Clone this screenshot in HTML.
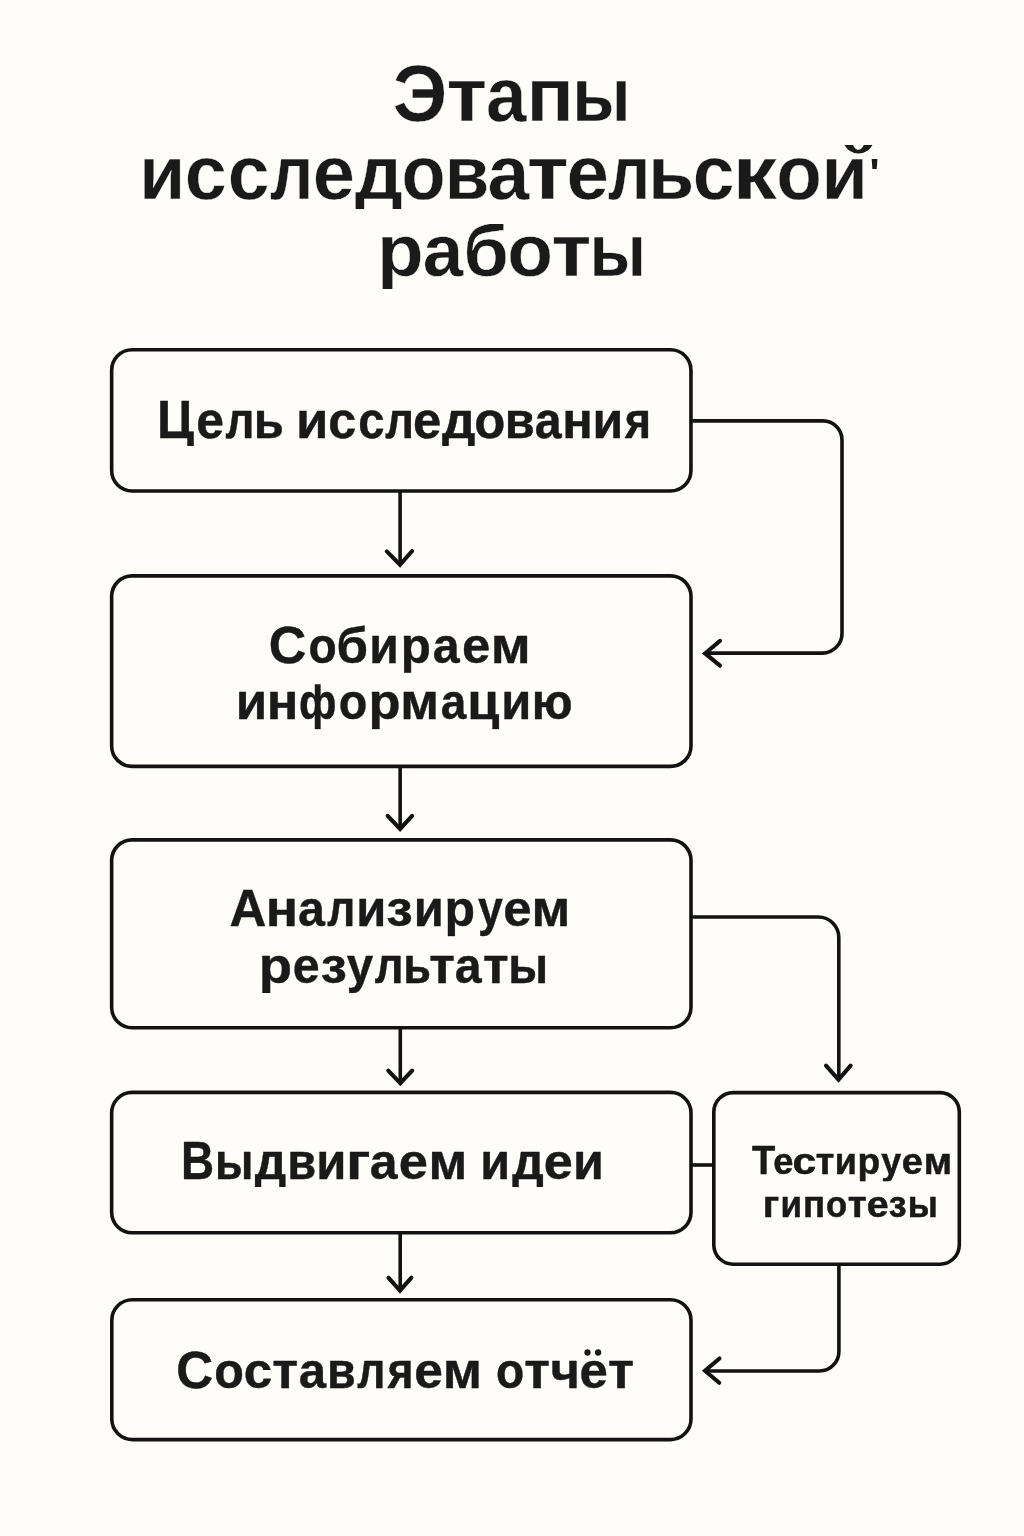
<!DOCTYPE html>
<html lang="ru">
<head>
<meta charset="utf-8">
<title>Этапы исследовательской работы</title>
<style>
html,body{margin:0;padding:0;background:#fefdf9;}
body{width:1024px;height:1536px;overflow:hidden;position:relative;}
svg{position:absolute;left:0;top:0;display:block;}
text{font-family:"Liberation Sans",sans-serif;font-weight:700;fill:#1a1a1a;stroke-linejoin:round;}
.ln{fill:none;stroke:#121212;stroke-width:3.6;stroke-linecap:butt;stroke-linejoin:round;}
.hd{fill:none;stroke:#121212;stroke-width:4.1;stroke-linecap:round;stroke-linejoin:miter;stroke-miterlimit:6;}
.bx{fill:none;stroke:#121212;stroke-width:3.6;}
</style>
</head>
<body>
<svg width="1024" height="1536" viewBox="0 0 1024 1536">
<rect x="0" y="0" width="1024" height="1536" fill="#fefdf9"/>
<!-- boxes -->
<rect class="bx" x="111.65" y="349.80" width="579.30" height="141.15" rx="20.5" ry="20.5"/>
<rect class="bx" x="111.65" y="575.85" width="579.35" height="190.55" rx="20.5" ry="20.5"/>
<rect class="bx" x="111.65" y="839.85" width="579.35" height="187.95" rx="20.5" ry="20.5"/>
<rect class="bx" x="111.65" y="1092.40" width="579.35" height="140.30" rx="20.5" ry="20.5"/>
<rect class="bx" x="111.80" y="1299.75" width="579.20" height="139.85" rx="20.5" ry="20.5"/>
<rect class="bx" x="713.80" y="1092.60" width="245.50" height="171.60" rx="19.5" ry="19.5"/>
<!-- vertical arrows down the main column -->
<path class="ln" d="M400.10 491.00 V564.80"/><path class="hd" d="M386.80 551.40 L400.00 564.80 L412.10 551.00"/>
<path class="ln" d="M400.15 766.50 V829.00"/><path class="hd" d="M387.70 815.80 L400.10 829.00 L412.10 815.90"/>
<path class="ln" d="M400.30 1028.00 V1083.20"/><path class="hd" d="M388.30 1070.60 L400.30 1083.20 L412.10 1070.60"/>
<path class="ln" d="M400.20 1233.00 V1290.65"/><path class="hd" d="M388.40 1277.70 L400.00 1290.65 L411.40 1277.60"/>
<!-- connector: box1 -> box2 (right loop) -->
<path class="ln" d="M692 420.9 H823.00 A19.0 19.0 0 0 1 842 439.90 V633.40 A19.7 19.7 0 0 1 822.30 653.1 H705.10"/><path class="hd" d="M720.10 640.80 L705.10 653.40 L720.00 665.60"/>
<!-- connector: box3 -> box6 -->
<path class="ln" d="M692 917 H818.30 A20.5 20.5 0 0 1 838.8 937.50 V1079.60"/><path class="hd" d="M826.00 1065.60 L838.50 1079.60 L850.60 1065.60"/>
<!-- connector: box4 - box6 -->
<path class="ln" d="M692 1165 H713"/>
<!-- connector: box6 -> box5 -->
<path class="ln" d="M838.9 1264.5 V1351.50 A19.5 19.5 0 0 1 819.40 1371 H705.00"/><path class="hd" d="M719.50 1358.50 L705.00 1370.80 L719.20 1382.80"/>
<!-- title quirks: offset breve over final letter and stray tick -->
<path fill="#1a1a1a" d="M844.4 145 Q849.5 153.6 858.5 153.6 Q867.5 153.6 872.5 145 L863.8 145 Q861.8 149.7 858.4 149.7 Q855 149.7 853 145 Z"/>
<path fill="#1a1a1a" d="M871.7 159.1 H877.4 L876.7 169.1 H872.4 Z"/>
<!-- text: glyphs individually fitted (identity filter keeps antialiasing greyscale) -->
<defs><filter id="gray" filterUnits="userSpaceOnUse" x="0" y="0" width="1024" height="1536" color-interpolation-filters="sRGB"><feOffset dx="0" dy="0"/></filter></defs>
<defs><clipPath id="c1"><rect x="0" y="157.0" width="1024" height="51.6"/></clipPath><clipPath id="c2"><rect x="0" y="224.0" width="1024" height="64.8"/></clipPath><clipPath id="c3"><rect x="0" y="390.0" width="1024" height="55.8"/></clipPath><clipPath id="c4"><rect x="0" y="612.0" width="1024" height="60.7"/></clipPath><clipPath id="c5"><rect x="0" y="684.3" width="1024" height="45.2"/></clipPath><clipPath id="c6"><rect x="0" y="880.0" width="1024" height="56.7"/></clipPath><clipPath id="c7"><rect x="0" y="945.0" width="1024" height="47.9"/></clipPath><clipPath id="c8"><rect x="0" y="1130.0" width="1024" height="56.6"/></clipPath><clipPath id="c10"><rect x="0" y="1136.0" width="1024" height="45.3"/></clipPath></defs>
<g filter="url(#gray)">
<g><text y="120.80" font-size="76.18" stroke="#fefdf9" stroke-width="0.4">
<tspan x="392.78" font-size="79.65" textLength="54.57" lengthAdjust="spacingAndGlyphs">Э</tspan><tspan x="446.45" textLength="40.66" lengthAdjust="spacingAndGlyphs">т</tspan><tspan x="486.07" textLength="40.43" lengthAdjust="spacingAndGlyphs">а</tspan><tspan x="526.53" textLength="47.35" lengthAdjust="spacingAndGlyphs">п</tspan><tspan x="572.22" textLength="58.46" lengthAdjust="spacingAndGlyphs">ы</tspan>
</text></g>
<g clip-path="url(#c1)"><text y="198.80" font-size="75.90" stroke="#fefdf9" stroke-width="0.4">
<tspan x="139.07" textLength="46.36" lengthAdjust="spacingAndGlyphs">и</tspan><tspan x="184.85" textLength="42.07" lengthAdjust="spacingAndGlyphs">с</tspan><tspan x="227.87" textLength="41.79" lengthAdjust="spacingAndGlyphs">с</tspan><tspan x="270.10" textLength="43.37" lengthAdjust="spacingAndGlyphs">л</tspan><tspan x="312.84" textLength="42.15" lengthAdjust="spacingAndGlyphs">е</tspan><tspan x="354.78" textLength="48.07" lengthAdjust="spacingAndGlyphs">д</tspan><tspan x="401.48" textLength="44.03" lengthAdjust="spacingAndGlyphs">о</tspan><tspan x="444.74" textLength="44.54" lengthAdjust="spacingAndGlyphs">в</tspan><tspan x="487.60" textLength="41.74" lengthAdjust="spacingAndGlyphs">а</tspan><tspan x="526.88" textLength="41.90" lengthAdjust="spacingAndGlyphs">т</tspan><tspan x="566.42" textLength="42.38" lengthAdjust="spacingAndGlyphs">е</tspan><tspan x="608.12" textLength="42.22" lengthAdjust="spacingAndGlyphs">л</tspan><tspan x="648.04" textLength="46.28" lengthAdjust="spacingAndGlyphs">ь</tspan><tspan x="692.87" textLength="41.79" lengthAdjust="spacingAndGlyphs">с</tspan><tspan x="732.63" textLength="44.52" lengthAdjust="spacingAndGlyphs">к</tspan><tspan x="776.29" textLength="45.58" lengthAdjust="spacingAndGlyphs">о</tspan><tspan x="821.46" textLength="46.49" lengthAdjust="spacingAndGlyphs">й</tspan>
</text></g>
<g clip-path="url(#c2)"><text y="276.10" font-size="74.20" stroke="#fefdf9" stroke-width="0.4">
<tspan x="377.02" textLength="46.61" lengthAdjust="spacingAndGlyphs">р</tspan><tspan x="422.87" textLength="40.43" lengthAdjust="spacingAndGlyphs">а</tspan><tspan x="463.45" textLength="45.15" lengthAdjust="spacingAndGlyphs">б</tspan><tspan x="507.37" textLength="45.75" lengthAdjust="spacingAndGlyphs">о</tspan><tspan x="551.59" textLength="39.87" lengthAdjust="spacingAndGlyphs">т</tspan><tspan x="589.39" textLength="56.43" lengthAdjust="spacingAndGlyphs">ы</tspan>
</text></g>
<g clip-path="url(#c3)"><text y="438.40" font-size="51.29" stroke="#0d0d0d" stroke-width="0.4">
<tspan x="157.06" font-size="53.34" textLength="37.01" lengthAdjust="spacingAndGlyphs">Ц</tspan><tspan x="196.25" textLength="27.76" lengthAdjust="spacingAndGlyphs">е</tspan><tspan x="225.53" textLength="28.95" lengthAdjust="spacingAndGlyphs">л</tspan><tspan x="253.79" textLength="30.04" lengthAdjust="spacingAndGlyphs">ь</tspan> <tspan x="296.04" textLength="32.41" lengthAdjust="spacingAndGlyphs">и</tspan><tspan x="328.23" textLength="28.05" lengthAdjust="spacingAndGlyphs">с</tspan><tspan x="358.35" textLength="26.34" lengthAdjust="spacingAndGlyphs">с</tspan><tspan x="385.24" textLength="28.72" lengthAdjust="spacingAndGlyphs">л</tspan><tspan x="412.96" textLength="28.33" lengthAdjust="spacingAndGlyphs">е</tspan><tspan x="442.09" textLength="33.44" lengthAdjust="spacingAndGlyphs">д</tspan><tspan x="474.21" textLength="31.07" lengthAdjust="spacingAndGlyphs">о</tspan><tspan x="504.80" textLength="29.90" lengthAdjust="spacingAndGlyphs">в</tspan><tspan x="534.78" textLength="26.88" lengthAdjust="spacingAndGlyphs">а</tspan><tspan x="562.27" textLength="30.57" lengthAdjust="spacingAndGlyphs">н</tspan><tspan x="592.53" textLength="30.73" lengthAdjust="spacingAndGlyphs">и</tspan><tspan x="624.72" textLength="26.33" lengthAdjust="spacingAndGlyphs">я</tspan>
</text></g>
<g clip-path="url(#c4)"><text y="662.70" font-size="50.63" stroke="#0d0d0d" stroke-width="0.4">
<tspan x="268.67" font-size="52.04" textLength="37.55" lengthAdjust="spacingAndGlyphs">С</tspan><tspan x="308.40" textLength="28.21" lengthAdjust="spacingAndGlyphs">о</tspan><tspan x="336.61" textLength="31.51" lengthAdjust="spacingAndGlyphs">б</tspan><tspan x="369.36" textLength="29.57" lengthAdjust="spacingAndGlyphs">и</tspan><tspan x="400.70" textLength="30.12" lengthAdjust="spacingAndGlyphs">р</tspan><tspan x="432.78" textLength="26.88" lengthAdjust="spacingAndGlyphs">а</tspan><tspan x="461.96" textLength="28.33" lengthAdjust="spacingAndGlyphs">е</tspan><tspan x="490.83" textLength="39.94" lengthAdjust="spacingAndGlyphs">м</tspan>
</text></g>
<g clip-path="url(#c5)"><text y="719.40" font-size="50.35" stroke="#0d0d0d" stroke-width="0.4">
<tspan x="235.65" textLength="31.44" lengthAdjust="spacingAndGlyphs">и</tspan><tspan x="266.79" textLength="31.67" lengthAdjust="spacingAndGlyphs">н</tspan><tspan x="299.09" textLength="37.45" lengthAdjust="spacingAndGlyphs">ф</tspan><tspan x="338.67" textLength="28.55" lengthAdjust="spacingAndGlyphs">о</tspan><tspan x="368.64" textLength="32.06" lengthAdjust="spacingAndGlyphs">р</tspan><tspan x="400.29" textLength="38.77" lengthAdjust="spacingAndGlyphs">м</tspan><tspan x="440.75" textLength="25.57" lengthAdjust="spacingAndGlyphs">а</tspan><tspan x="467.15" textLength="32.13" lengthAdjust="spacingAndGlyphs">ц</tspan><tspan x="501.21" textLength="30.09" lengthAdjust="spacingAndGlyphs">и</tspan><tspan x="531.86" textLength="40.80" lengthAdjust="spacingAndGlyphs">ю</tspan>
</text></g>
<g clip-path="url(#c6)"><text y="926.40" font-size="50.35" stroke="#0d0d0d" stroke-width="0.4">
<tspan x="229.43" font-size="52.62" textLength="36.81" lengthAdjust="spacingAndGlyphs">А</tspan><tspan x="265.71" textLength="32.32" lengthAdjust="spacingAndGlyphs">н</tspan><tspan x="298.03" textLength="26.88" lengthAdjust="spacingAndGlyphs">а</tspan><tspan x="327.35" textLength="28.03" lengthAdjust="spacingAndGlyphs">л</tspan><tspan x="356.21" textLength="30.09" lengthAdjust="spacingAndGlyphs">и</tspan><tspan x="386.32" textLength="26.53" lengthAdjust="spacingAndGlyphs">з</tspan><tspan x="413.71" textLength="30.09" lengthAdjust="spacingAndGlyphs">и</tspan><tspan x="444.40" textLength="30.55" lengthAdjust="spacingAndGlyphs">р</tspan><tspan x="477.95" textLength="24.84" lengthAdjust="spacingAndGlyphs">у</tspan><tspan x="503.21" textLength="28.33" lengthAdjust="spacingAndGlyphs">е</tspan><tspan x="531.53" textLength="38.83" lengthAdjust="spacingAndGlyphs">м</tspan>
</text></g>
<g clip-path="url(#c7)"><text y="982.70" font-size="50.16" stroke="#0d0d0d" stroke-width="0.4">
<tspan x="258.86" textLength="33.28" lengthAdjust="spacingAndGlyphs">р</tspan><tspan x="292.81" textLength="26.89" lengthAdjust="spacingAndGlyphs">е</tspan><tspan x="320.84" textLength="26.13" lengthAdjust="spacingAndGlyphs">з</tspan><tspan x="346.73" textLength="26.43" lengthAdjust="spacingAndGlyphs">у</tspan><tspan x="374.73" textLength="28.83" lengthAdjust="spacingAndGlyphs">л</tspan><tspan x="403.29" textLength="27.78" lengthAdjust="spacingAndGlyphs">ь</tspan><tspan x="429.31" textLength="25.70" lengthAdjust="spacingAndGlyphs">т</tspan><tspan x="454.78" textLength="26.88" lengthAdjust="spacingAndGlyphs">а</tspan><tspan x="483.12" textLength="25.64" lengthAdjust="spacingAndGlyphs">т</tspan><tspan x="508.19" textLength="39.87" lengthAdjust="spacingAndGlyphs">ы</tspan>
</text></g>
<g clip-path="url(#c8)"><text y="1179.40" font-size="50.54" stroke="#0d0d0d" stroke-width="0.4">
<tspan x="180.88" font-size="53.34" textLength="33.10" lengthAdjust="spacingAndGlyphs">В</tspan><tspan x="215.06" textLength="38.38" lengthAdjust="spacingAndGlyphs">ы</tspan><tspan x="254.86" textLength="31.46" lengthAdjust="spacingAndGlyphs">д</tspan><tspan x="287.21" textLength="28.92" lengthAdjust="spacingAndGlyphs">в</tspan><tspan x="316.30" textLength="30.15" lengthAdjust="spacingAndGlyphs">и</tspan><tspan x="346.12" textLength="24.35" lengthAdjust="spacingAndGlyphs">г</tspan><tspan x="369.74" textLength="27.79" lengthAdjust="spacingAndGlyphs">а</tspan><tspan x="398.65" textLength="29.19" lengthAdjust="spacingAndGlyphs">е</tspan><tspan x="428.44" textLength="38.77" lengthAdjust="spacingAndGlyphs">м</tspan> <tspan x="480.34" textLength="29.83" lengthAdjust="spacingAndGlyphs">и</tspan><tspan x="512.26" textLength="31.56" lengthAdjust="spacingAndGlyphs">д</tspan><tspan x="543.76" textLength="29.08" lengthAdjust="spacingAndGlyphs">е</tspan><tspan x="572.96" textLength="30.93" lengthAdjust="spacingAndGlyphs">и</tspan>
</text></g>
<g><text y="1387.50" font-size="50.54" stroke="#0d0d0d" stroke-width="0.4">
<tspan x="176.20" font-size="52.04" textLength="36.89" lengthAdjust="spacingAndGlyphs">С</tspan><tspan x="214.30" textLength="29.64" lengthAdjust="spacingAndGlyphs">о</tspan><tspan x="243.80" textLength="28.50" lengthAdjust="spacingAndGlyphs">с</tspan><tspan x="272.30" textLength="25.87" lengthAdjust="spacingAndGlyphs">т</tspan><tspan x="298.76" textLength="27.34" lengthAdjust="spacingAndGlyphs">а</tspan><tspan x="326.94" textLength="28.68" lengthAdjust="spacingAndGlyphs">в</tspan><tspan x="357.25" textLength="28.15" lengthAdjust="spacingAndGlyphs">л</tspan><tspan x="387.42" textLength="26.10" lengthAdjust="spacingAndGlyphs">я</tspan><tspan x="414.19" textLength="28.62" lengthAdjust="spacingAndGlyphs">е</tspan><tspan x="442.74" textLength="39.26" lengthAdjust="spacingAndGlyphs">м</tspan> <tspan x="495.90" textLength="28.21" lengthAdjust="spacingAndGlyphs">о</tspan><tspan x="524.31" textLength="25.70" lengthAdjust="spacingAndGlyphs">т</tspan><tspan x="550.40" textLength="29.42" lengthAdjust="spacingAndGlyphs">ч</tspan><tspan x="579.46" textLength="28.33" lengthAdjust="spacingAndGlyphs">ё</tspan><tspan x="608.09" textLength="26.09" lengthAdjust="spacingAndGlyphs">т</tspan>
</text></g>
<g clip-path="url(#c10)"><text y="1173.50" font-size="37.19" stroke="#0d0d0d" stroke-width="0.5">
<tspan x="751.92" font-size="40.33" textLength="23.24" lengthAdjust="spacingAndGlyphs">Т</tspan><tspan x="773.33" textLength="20.15" lengthAdjust="spacingAndGlyphs">е</tspan><tspan x="792.59" textLength="23.66" lengthAdjust="spacingAndGlyphs">с</tspan><tspan x="815.68" textLength="18.52" lengthAdjust="spacingAndGlyphs">т</tspan><tspan x="834.86" textLength="22.08" lengthAdjust="spacingAndGlyphs">и</tspan><tspan x="857.60" textLength="22.67" lengthAdjust="spacingAndGlyphs">р</tspan><tspan x="881.22" textLength="19.97" lengthAdjust="spacingAndGlyphs">у</tspan><tspan x="901.87" textLength="21.08" lengthAdjust="spacingAndGlyphs">е</tspan><tspan x="923.82" textLength="28.35" lengthAdjust="spacingAndGlyphs">м</tspan>
</text></g>
<g><text y="1216.50" font-size="37.38" stroke="#0d0d0d" stroke-width="0.5">
<tspan x="762.74" textLength="16.47" lengthAdjust="spacingAndGlyphs">г</tspan><tspan x="780.58" textLength="21.50" lengthAdjust="spacingAndGlyphs">и</tspan><tspan x="802.94" textLength="22.11" lengthAdjust="spacingAndGlyphs">п</tspan><tspan x="826.00" textLength="21.10" lengthAdjust="spacingAndGlyphs">о</tspan><tspan x="847.65" textLength="18.98" lengthAdjust="spacingAndGlyphs">т</tspan><tspan x="866.71" textLength="21.88" lengthAdjust="spacingAndGlyphs">е</tspan><tspan x="888.72" textLength="17.84" lengthAdjust="spacingAndGlyphs">з</tspan><tspan x="907.80" textLength="30.01" lengthAdjust="spacingAndGlyphs">ы</tspan>
</text></g>
</g>
<!-- round dieresis dots for the letter yo (cover the square font dots) -->
<rect x="580" y="1346" width="28" height="13.6" fill="#fefdf9"/>
<circle cx="587.5" cy="1352.5" r="3.15" fill="#1a1a1a"/><circle cx="598.1" cy="1352.5" r="3.15" fill="#1a1a1a"/>
</svg>
</body>
</html>
